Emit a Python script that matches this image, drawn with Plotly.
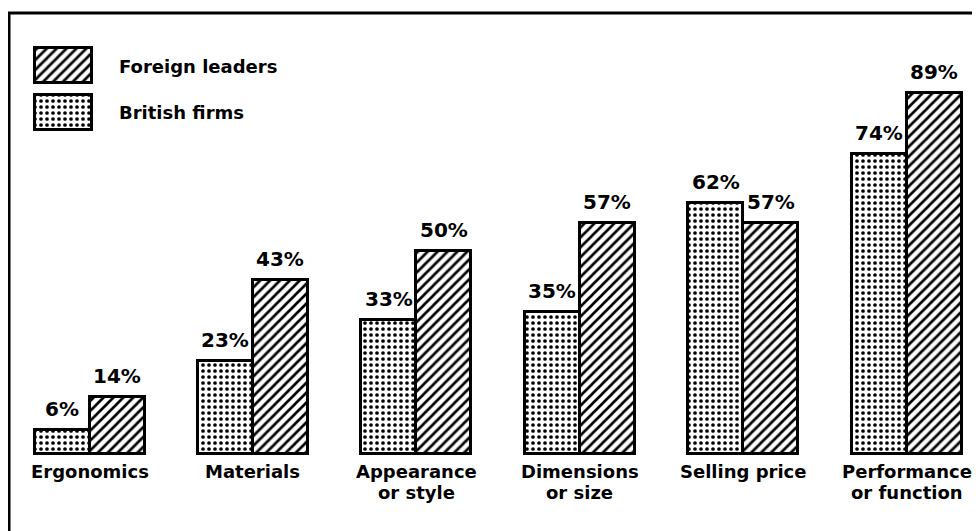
import plotly.graph_objects as go

categories = ["Ergonomics", "Materials", "Appearance<br>or style",
              "Dimensions<br>or size", "Selling price", "Performance<br>or function"]
british = [6, 23, 33, 35, 62, 74]
foreign = [14, 43, 50, 57, 57, 89]
series_names = ["Foreign leaders", "British firms"]

FONT = "DejaVu Sans"
bw = 0.3366  # bar width in category units

dots = dict(shape=".", size=6, solidity=0.3, fgcolor="black", bgcolor="white", fillmode="replace")
hatch = dict(shape="/", size=7, solidity=0.38, fgcolor="black", bgcolor="white", fillmode="replace")
outline = dict(color="black", width=3)

fig = go.Figure()
fig.add_trace(go.Bar(x=categories, y=british, name=series_names[1], width=bw, offset=-bw,
                     marker=dict(color="white", pattern=dots, line=outline), showlegend=False))
fig.add_trace(go.Bar(x=categories, y=foreign, name=series_names[0], width=bw, offset=0,
                     marker=dict(color="white", pattern=hatch, line=outline), showlegend=False))

# legend swatches, drawn on a pixel overlay axis
fig.add_trace(go.Bar(x=[55.5], y=[35], base=[40], width=[57], xaxis="x2", yaxis="y2",
                     marker=dict(color="white", pattern=hatch, line=outline),
                     showlegend=False, hoverinfo="skip"))
fig.add_trace(go.Bar(x=[55.5], y=[35], base=[87], width=[57], xaxis="x2", yaxis="y2",
                     marker=dict(color="white", pattern=dots, line=outline),
                     showlegend=False, hoverinfo="skip"))

annotations = []
for i, (b, f) in enumerate(zip(british, foreign)):
    annotations.append(dict(x=i - bw / 2, y=b, text=f"{b}%", showarrow=False,
                            yanchor="bottom", yshift=7, font=dict(size=20, weight="bold")))
    annotations.append(dict(x=i + bw / 2, y=f, text=f"{f}%", showarrow=False,
                            yanchor="bottom", yshift=7, font=dict(size=20, weight="bold")))

# category labels under each group, one annotation per line
for i, cat in enumerate(categories):
    for k, line in enumerate(cat.split("<br>")):
        annotations.append(dict(x=i, y=0, text=line, showarrow=False, yanchor="top",
                                yshift=-5 - 21 * k, font=dict(size=18, weight="bold")))

annotations.append(dict(x=109, y=58, xref="x2", yref="y2", text=series_names[0], showarrow=False,
                        xanchor="left", yanchor="middle", font=dict(size=18, weight="bold")))
annotations.append(dict(x=109, y=104, xref="x2", yref="y2", text=series_names[1], showarrow=False,
                        xanchor="left", yanchor="middle", font=dict(size=18, weight="bold")))

fig.update_layout(
    width=972, height=523,
    margin=dict(l=0, r=0, t=0, b=75),
    plot_bgcolor="white", paper_bgcolor="white",
    font=dict(family=FONT, color="black", size=18),
    bargap=0,
    xaxis=dict(range=[-0.4988, 5.4498], showgrid=False, zeroline=False, showline=False,
               showticklabels=False, ticks="", fixedrange=True),
    yaxis=dict(range=[-0.5, 110.1], visible=False, fixedrange=True),
    xaxis2=dict(range=[0, 972], overlaying="x", visible=False),
    yaxis2=dict(range=[448, 0], overlaying="y", visible=False),
    annotations=annotations,
    shapes=[dict(type="rect", xref="paper", yref="paper", x0=1 / 972, x1=1.05,
                 y0=-0.3, y1=1 - 5 / 448, line=dict(color="black", width=3))],
)

fig.write_html("out.html")
